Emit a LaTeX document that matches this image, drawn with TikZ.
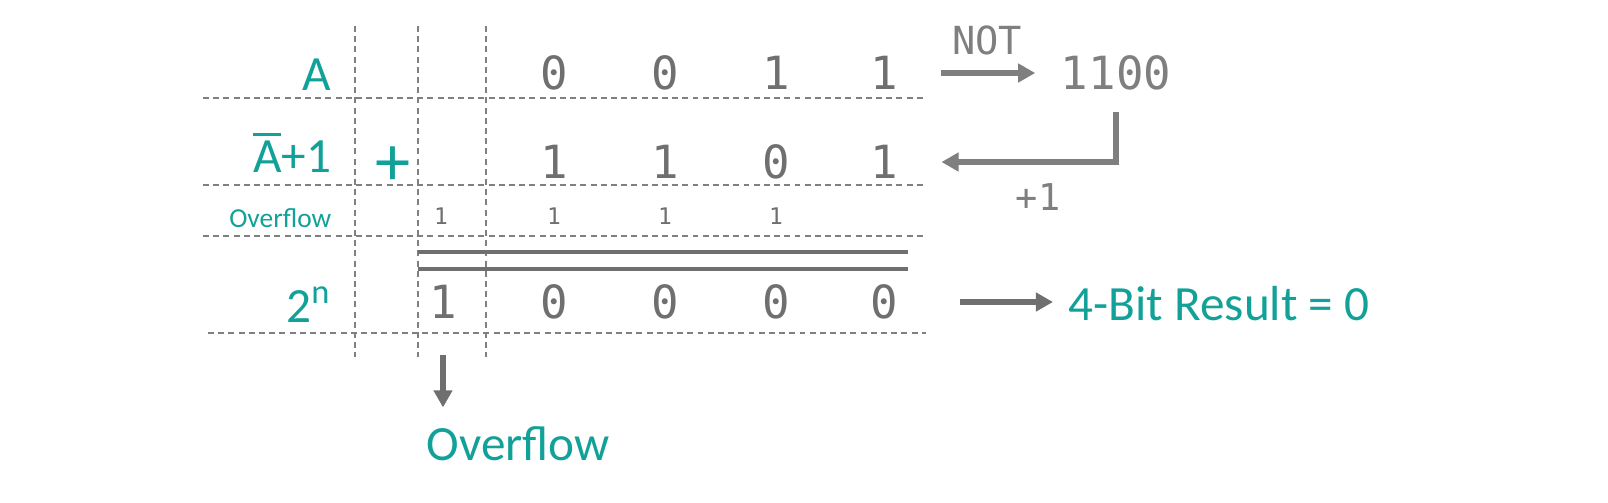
\documentclass[tikz,border=0pt]{standalone}
\usepackage{fontspec}
\setmainfont{Carlito}
\setmonofont{DejaVu Sans Mono}
\usetikzlibrary{positioning,arrows.meta}
\definecolor{tealC}{HTML}{12A198}
\definecolor{digitC}{HTML}{6F6F6F}
\definecolor{arrowC}{HTML}{7F7F7F}
\definecolor{gridC}{HTML}{808080}
\newcommand{\compA}{\makebox[0pt][l]{\rule[0.73em]{0.56em}{1pt}}A}
\tikzset{
  lbl/.style={text=tealC, font=\fontsize{14}{16}\selectfont, inner sep=0pt, anchor=base east},
  smalllbl/.style={lbl, font=\fontsize{7.8}{9}\selectfont},
  bit/.style={text=digitC, font=\ttfamily\fontsize{13}{15}\selectfont, inner sep=0pt},
  carry/.style={bit, font=\ttfamily\fontsize{6.5}{8}\selectfont},
  optext/.style={text=arrowC, font=\ttfamily\fontsize{11}{13}\selectfont, inner sep=0pt},
  grid/.style={draw=gridC, line width=0.6pt, dash pattern=on 1.7pt off 1.2pt},
  flow/.style={draw=arrowC, line width=1.5pt, -{Triangle[length=1.7mm,width=1.8mm]}},
  flowdark/.style={flow, draw=digitC},
  sumline/.style={draw=digitC, line width=1.15pt},
}

\begin{document}
\begin{tikzpicture}[x=0.01cm, y=-0.01cm]
\useasboundingbox (0,0) rectangle (1608,502);
% dashed guide lines
\draw[grid] (203,98) -- (926,98);
\draw[grid] (203,185) -- (926,185);
\draw[grid] (203,236) -- (926,236);
\draw[grid] (208,333) -- (926,333);
\draw[grid] (355,26) -- (355,357);
\draw[grid] (418,26) -- (418,357);
\draw[grid] (486,26) -- (486,357);
% row labels
\node[lbl] (labA) at (332,90) {A};
\node[lbl] (labB) at (332,172) {\compA+1};
\node[smalllbl] (labC) at (332,227) {Overflow};
\node[lbl] (labN) at (332,322) {2\textsuperscript{n}};
\node[lbl, anchor=center, font=\fontsize{20}{22}\selectfont] (plus) at (393,166) {+};
% A
\node[bit] (a0) at (554,73) {0};
\node[bit] (a1) at (665,73) {0};
\node[bit] (a2) at (776,73) {1};
\node[bit] (a3) at (884,73) {1};
% not A plus one
\node[bit] (b0) at (554,162) {1};
\node[bit] (b1) at (665,162) {1};
\node[bit] (b2) at (776,162) {0};
\node[bit] (b3) at (884,162) {1};
% carries
\node[carry] (c0) at (441,216) {1};
\node[carry] (c1) at (554,216) {1};
\node[carry] (c2) at (665,216) {1};
\node[carry] (c3) at (776,216) {1};
% sum
\draw[sumline] (418,252) -- (908,252);
\draw[sumline] (418,269) -- (908,269);
\node[bit] (r0) at (443,302) {1};
\node[bit] (r1) at (554,302) {0};
\node[bit] (r2) at (665,302) {0};
\node[bit] (r3) at (776,302) {0};
\node[bit] (r4) at (884,302) {0};
% side steps
\node[bit, text=arrowC] (inv) at (1116,73) {1100};
\node[optext] (notlbl) at (987,40) {NOT};
\node[optext, font=\ttfamily\fontsize{10.5}{12}\selectfont] (inclbl) at (1038,197) {+1};
\draw[flow, shorten <=0.43cm, shorten >=0.25cm] (a3.east) -- (inv.west);
\draw[flow, shorten <=0.21cm, shorten >=0.43cm] (inv.south) |- (b3);
\node[lbl, anchor=base west] (res) at (1068,320) {4-Bit Result = 0};
\draw[flowdark, shorten <=0.61cm, shorten >=0.15cm] (r4.east) -- (r4.east -| res.west);
\node[lbl, anchor=base west] (ovlbl) at (426,460) {Overflow};
\draw[flowdark, shorten <=0.355cm, shorten >=0.18cm] (r0.south) -- (r0.south |- ovlbl.north);
\end{tikzpicture}
\end{document}
